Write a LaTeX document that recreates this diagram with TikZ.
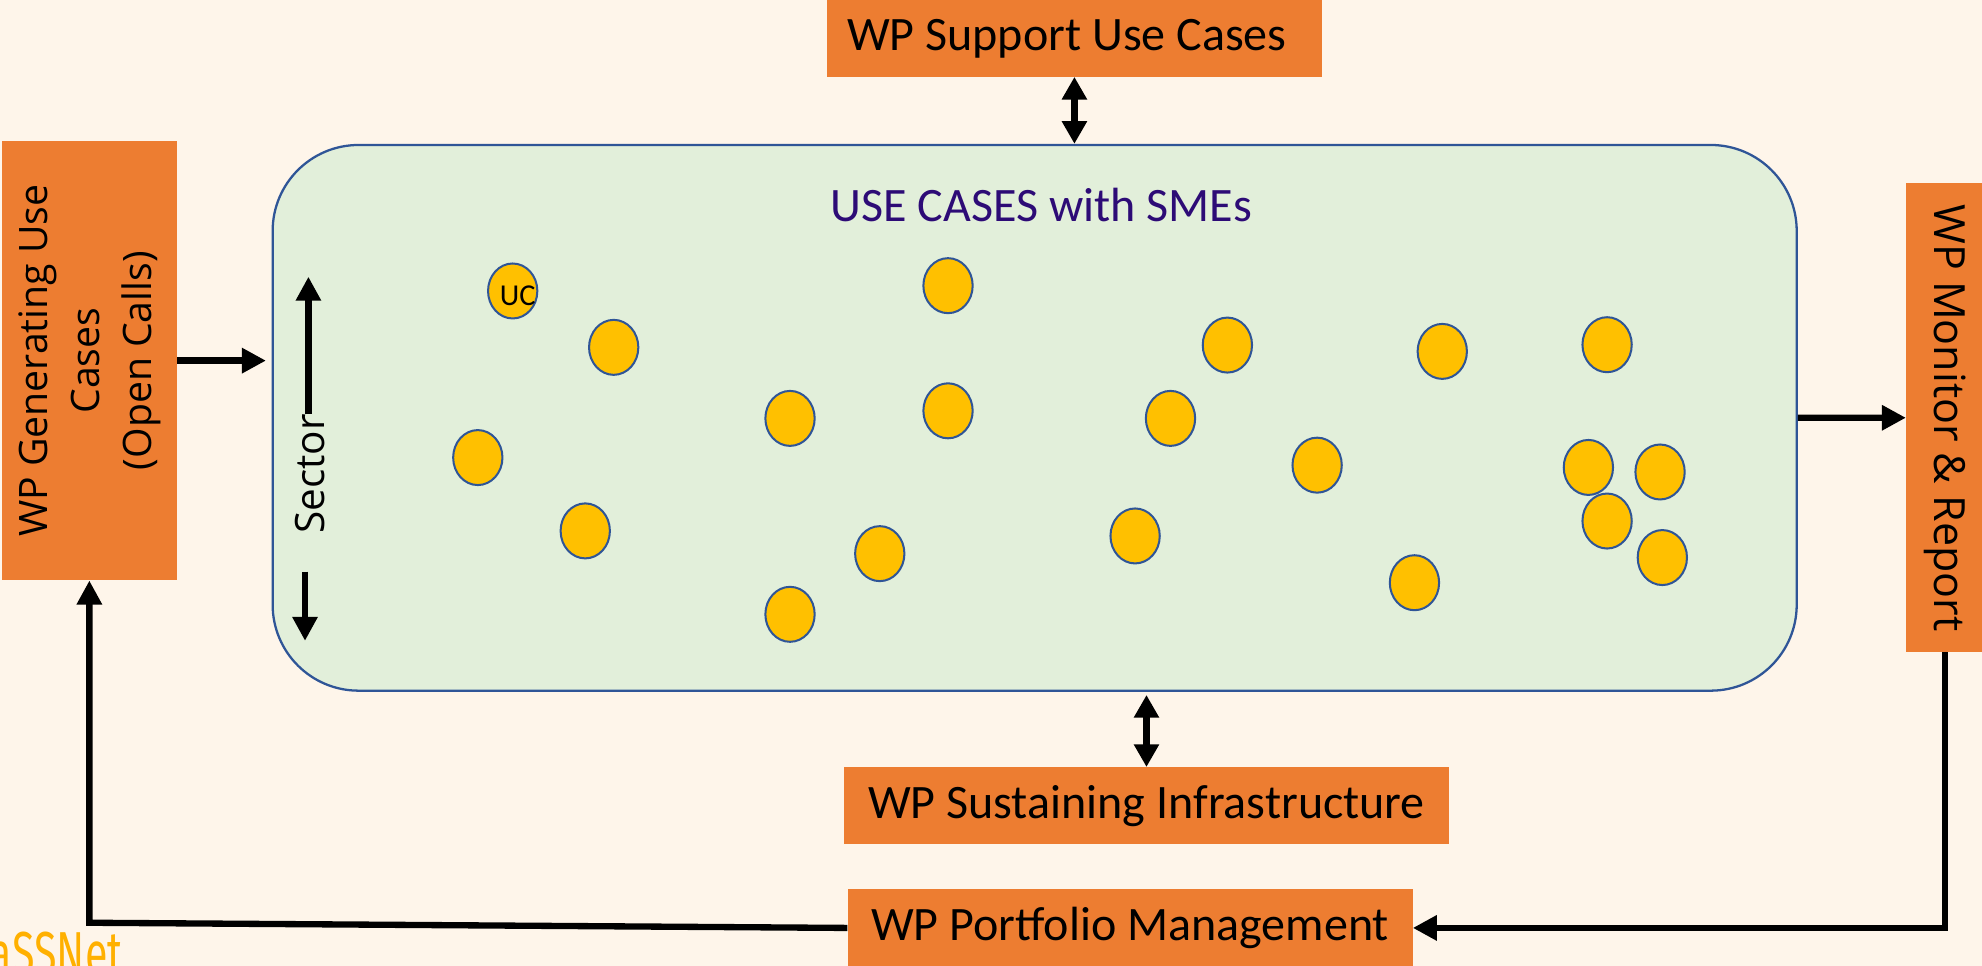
\documentclass[tikz,border=0pt]{standalone}
\usepackage{fontspec}
\setmainfont{Carlito}
\newfontfamily\osans{Open Sans}
\newfontfamily\logofont{Fira Sans}[FakeStretch=0.68]
\usetikzlibrary{arrows.meta,shapes.geometric}
\definecolor{bgc}{HTML}{FEF5EA}
\definecolor{orangec}{HTML}{ED7D31}
\definecolor{greenc}{HTML}{E2EFDA}
\definecolor{bluec}{HTML}{2F5597}
\definecolor{yellowc}{HTML}{FFC000}
\definecolor{titlec}{HTML}{2D0B76}
\definecolor{logoc}{HTML}{FFB000}
\tikzset{
  wpbox/.style={rectangle, fill=orangec, inner sep=0pt, font=\fontsize{38}{45}\selectfont},
  ucnode/.style={ellipse, draw=bluec, line width=1.6pt, fill=yellowc, minimum width=39pt, minimum height=43.5pt, inner sep=0pt},
  conn/.style={line width=5pt, -{Triangle[width=19pt,length=19pt]}},
  dbl/.style={line width=5.5pt, {Triangle[width=19pt,length=18pt]}-{Triangle[width=19pt,length=18pt]}}
}
\begin{document}
\begin{tikzpicture}[x=1pt,y=-1pt]
\fill[bgc] (0,0) rectangle (1568,764.2);
\useasboundingbox (0,0) rectangle (1568,764.2);

% main rounded box
\node[draw=bluec, line width=1.8pt, fill=greenc, rounded corners=68pt, minimum width=1205.7pt, minimum height=431.7pt, inner sep=0pt] (main) at (818.55,330.55) {};
\node[font=\fontsize{38}{45}\selectfont, text=titlec, anchor=base, inner sep=0pt] (title) at (824,175.4) {USE CASES with SMEs};

% work package boxes
\node[wpbox, minimum width=392pt, minimum height=60.6pt] (sup) at (850,30.3) {WP Support Use Cases\hspace*{12pt}};
\node[wpbox, minimum width=138.7pt, minimum height=347.5pt] (gen) at (70.7,285.3)
  {\rotatebox{90}{\osans\fontsize{31}{41}\selectfont\begin{tabular}{@{}c@{}}WP Generating Use\\Cases\\(Open Calls)\end{tabular}}};
\node[wpbox, minimum width=61pt, minimum height=371pt] (mon) at (1538.5,330.5)
  {\rotatebox{-90}{\osans\fontsize{34}{40}\selectfont WP Monitor \& Report}};
\node[wpbox, minimum width=478pt, minimum height=61pt] (sus) at (907,637.5) {WP Sustaining Infrastructure};
\node[wpbox, minimum width=447pt, minimum height=61pt] (port) at (894,734.1) {WP Portfolio Management};

% logo fragment
\node[font=\logofont\fontsize{48}{54}\selectfont, text=logoc, anchor=base east, inner sep=0pt] (logo) at (97,771) {aSSNet};

% use case ellipses
\node[ucnode, font=\fontsize{24}{28}\selectfont] (c1) at (405.6,230.2) {\makebox[0pt]{\hspace*{8pt}\smash{\raisebox{-11.5pt}{UC}}}};
\foreach \n/\x/\y in {2/485.5/274.8, 3/378/362, 4/463/420, 5/625/331, 6/750/226, 7/750/325, 8/696/438, 9/625/486, 10/971/273, 11/926/331, 12/898/424, 13/1042/368, 14/1141/278, 15/1119/461, 16/1271.4/272.7, 17/1256.6/369.8, 18/1313.3/373.4, 19/1271.4/412.2, 20/1315.1/441.1}
  \node[ucnode] (c\n) at (\x,\y) {};

% sector label and arrows
\node[font=\osans\fontsize{32}{38}\selectfont, inner sep=0pt] (sec) at (245,375) {\rotatebox{90}{Sector}};
\coordinate (secup) at (244,218.9);
\coordinate (secd1) at (241.3,452.3);
\coordinate (secd2) at (241.3,507);
\draw[conn] (sec.north -| secup) -- (secup);
\draw[conn] (secd1) -- (secd2);

% connectors
\coordinate (ga) at (210.4,285.3);
\draw[conn] (gen.east) -- (ga);
\draw[conn] (main.east) -- (mon.west);
\draw[dbl] (sup.south) -- (sup.south |- main.north);
\coordinate (sa) at (907,549.8);
\draw[dbl] (sa) -- (sus.north);
\draw[conn] (mon.south) -- (mon.south |- port.east) -- (port.east);
\coordinate (pl) at (70.7,730);
\draw[conn] (port.west) -- (pl) -- (gen.south);
\end{tikzpicture}
\end{document}
